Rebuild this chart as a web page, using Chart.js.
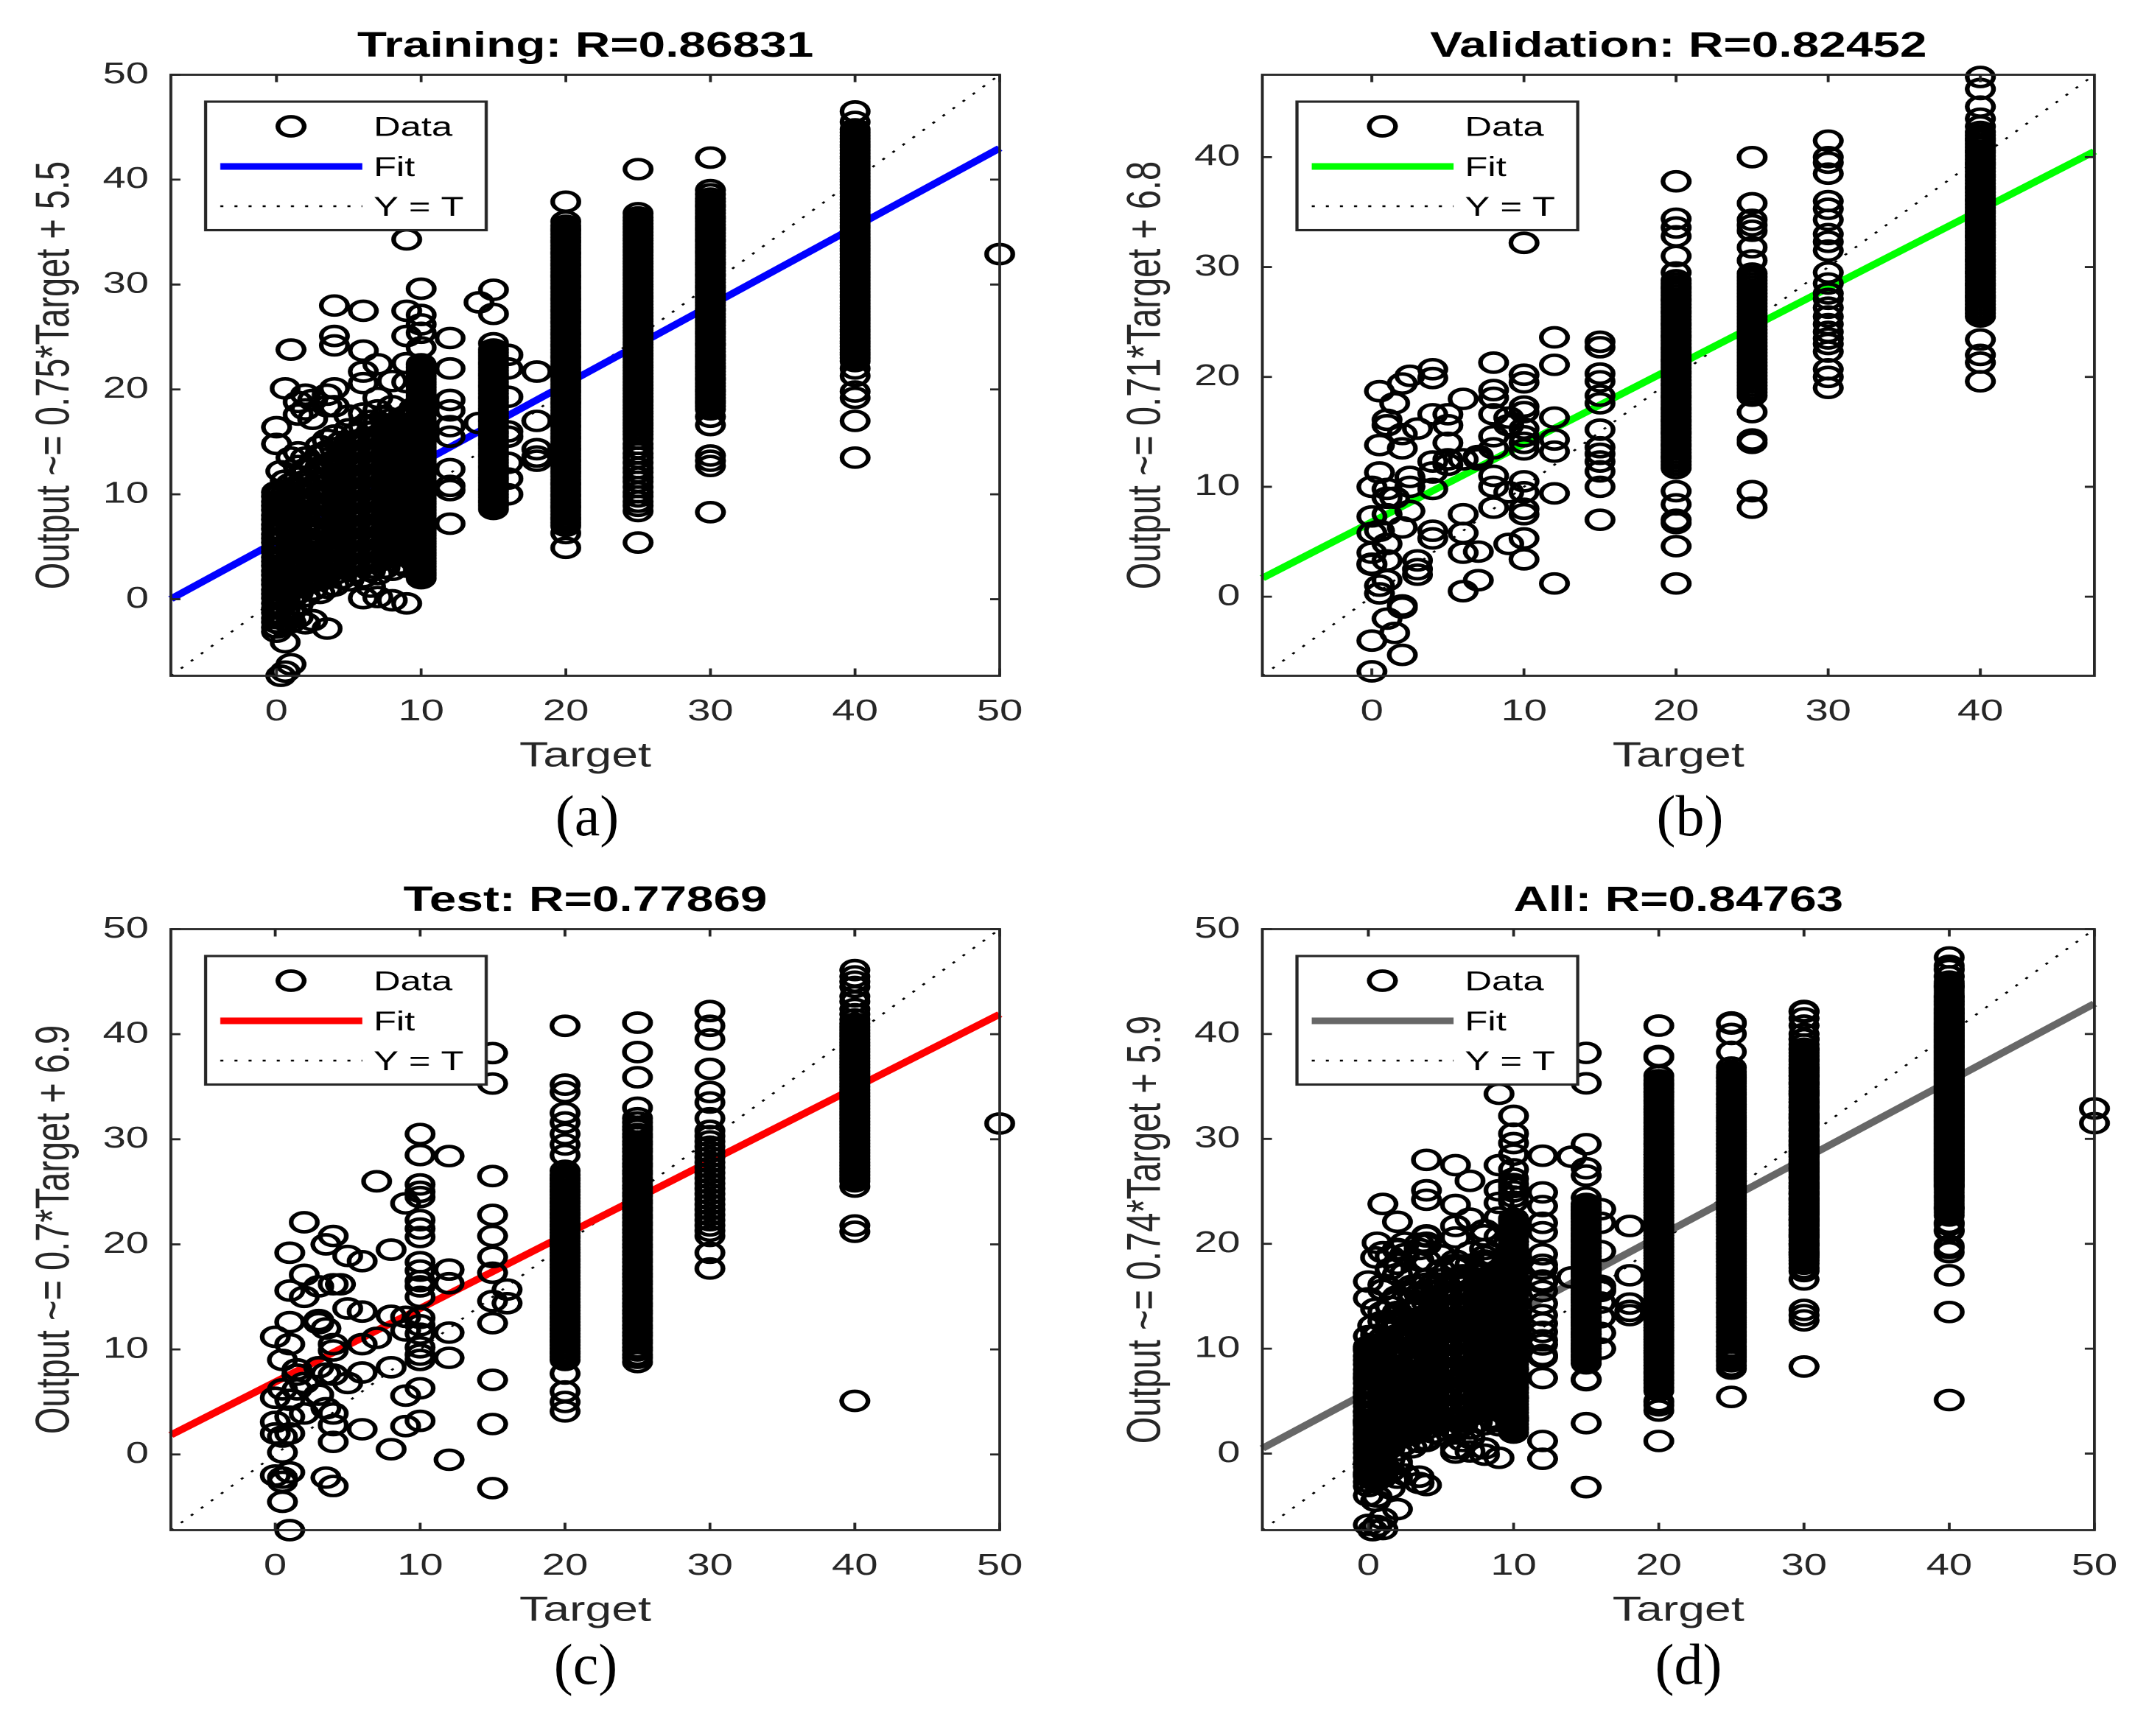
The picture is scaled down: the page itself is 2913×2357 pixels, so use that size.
<!DOCTYPE html>
<html><head><meta charset="utf-8">
<script src="https://cdn.jsdelivr.net/npm/chart.js@4.4.1/dist/chart.umd.min.js"></script>
<style>
html,body{margin:0;padding:0;background:#ffffff;}
body{width:2913px;height:2357px;position:relative;overflow:hidden;}
.panel{position:absolute;transform-origin:0 0;}
.panel canvas{display:block;}
.cap{position:absolute;width:300px;text-align:center;font-family:"Liberation Serif","Times New Roman",serif;font-size:78px;line-height:78px;color:#000;}
</style></head><body>
<div class="panel" id="p0"><canvas id="c0"></canvas></div>
<div class="panel" id="p1"><canvas id="c1"></canvas></div>
<div class="panel" id="p2"><canvas id="c2"></canvas></div>
<div class="panel" id="p3"><canvas id="c3"></canvas></div>
<div class="cap" id="cap0"></div>
<div class="cap" id="cap1"></div>
<div class="cap" id="cap2"></div>
<div class="cap" id="cap3"></div>
<script>
// ---------------- DATA ----------------
const panelTitles = ['Training: R=0.86831', 'Validation: R=0.82452', 'Test: R=0.77869', 'All: R=0.84763'];
const yAxisLabels = ['Output ~= 0.75*Target + 5.5', 'Output ~= 0.71*Target + 6.8', 'Output ~= 0.7*Target + 6.9', 'Output ~= 0.74*Target + 5.9'];
const captions = ['(a)', '(b)', '(c)', '(d)'];
const fitSlopes = [0.75, 0.71, 0.7, 0.74];
const fitIntercepts = [5.5, 6.8, 6.9, 5.9];
const axisMin = [-7.3, -7.2, -7.2, -7.3];
const axisMax = [50, 47.5, 50, 50];
const tickValues = [[0,10,20,30,40,50],[0,10,20,30,40],[0,10,20,30,40,50],[0,10,20,30,40,50]];

const trainingTargets = [0,0.3,0.6,1,1.5,2,2.5,3,3.5,4,4.5,5,5.5,6,6.5,7,7.5,8,8.5,9,9.5,10,12,14,15,16,18,20,25,30,40,50];
const trainingOutputs = [
 [-3.1,-2.7,-2.2,-1.8,-1.3,-0.9,-0.4,0.1,0.5,0.9,1.4,1.8,2.3,2.7,3.2,3.6,4.0,4.5,4.9,5.4,5.8,6.2,6.7,7.1,7.6,8.0,8.5,8.9,9.3,9.8,10.2,14.8,16.4],
 [-7.3,-2.4,-1.6,-0.7,0.2,1.1,2.0,2.9,3.8,4.7,5.6,6.5,7.4,8.3,9.2,10.1,12.2],
 [-6.9,-4.1,-2.0,-1.0,0.0,1.0,2.1,3.1,4.1,5.1,6.1,7.1,8.1,9.1,10.0,11.3,20.1],
 [-6.2,-2.2,-1.2,-0.1,0.9,2.0,3.0,4.0,5.1,6.1,7.1,8.2,9.2,10.2,11.0,13.5,23.8],
 [-1.7,-0.5,0.6,1.7,2.8,3.9,5.0,6.1,7.2,8.3,9.4,10.5,11.6,12.7,14.0,17.6,18.8],
 [-2.3,0.3,1.4,2.5,3.6,4.7,5.8,6.9,8.0,9.1,10.2,11.3,12.4,13.5,18.1,19.5],
 [-2.0,0.9,2.1,3.3,4.5,5.7,6.9,8.1,9.3,10.5,11.7,12.9,17.2,19.0],
 [0.6,1.8,3.0,4.2,5.4,6.6,7.8,9.0,10.2,11.4,12.6,13.8,14.6],
 [-2.8,1.1,2.4,3.7,5.0,6.3,7.6,8.9,10.2,11.5,12.8,14.1,15.2,18.4,19.5],
 [1.3,2.4,3.6,4.8,6.0,7.2,8.4,9.6,10.8,12.0,13.2,14.4,15.6,18.4,20.1,24.2,25.1,28.0],
 [2.0,3.2,4.4,5.6,6.8,8.0,9.2,10.4,11.6,12.8,14.0,15.0],
 [1.8,3.0,4.2,5.4,6.6,7.8,9.0,10.2,11.4,12.6,13.8,15.0,16.2,17.5],
 [2.6,3.8,5.0,6.2,7.4,8.6,9.8,11.0,12.2,13.4,14.6,15.8],
 [0.1,2.1,3.3,4.5,5.7,6.9,8.1,9.3,10.5,11.7,12.9,14.1,15.3,16.5,17.7,20.6,21.7,23.7,27.5],
 [1.2,2.7,3.9,5.1,6.3,7.5,8.7,9.9,11.1,12.3,13.5,14.7,15.9,17.0],
 [0.2,2.4,3.6,4.8,6.0,7.2,8.4,9.6,10.8,12.0,13.2,14.4,15.6,16.8,18.0,19.2,22.4],
 [3.0,4.2,5.4,6.6,7.8,9.0,10.2,11.4,12.6,13.8,15.0,16.2,17.4],
 [-0.1,2.8,4.0,5.2,6.4,7.6,8.8,10.0,11.2,12.4,13.6,14.8,16.0,17.2,18.4,20.8],
 [3.4,4.6,5.8,7.0,8.2,9.4,10.6,11.8,13.0,14.2,15.4,16.6],
 [-0.4,3.1,4.3,5.5,6.7,7.9,9.1,10.3,11.5,12.7,13.9,15.1,16.3,17.5,20.7,22.5,25.1,27.5,34.3],
 [3.7,4.9,6.1,7.3,8.5,9.7,10.9,12.1,13.3,14.5,15.7,16.9,18.2],
 [2.0,2.3,2.5,2.8,3.1,3.4,3.6,3.9,4.2,4.4,4.7,5.0,5.3,5.5,5.8,6.1,6.3,6.6,6.9,7.2,7.4,7.7,8.0,8.2,8.5,8.8,9.1,9.3,9.6,9.9,10.1,10.4,10.7,11.0,11.2,11.5,11.8,12.0,12.3,12.6,12.9,13.1,13.4,13.7,13.9,14.2,14.5,14.8,15.0,15.3,15.6,15.8,16.1,16.4,16.7,16.9,17.2,17.5,17.7,18.0,18.3,18.6,18.8,19.1,19.4,19.6,19.9,20.2,20.5,20.7,21.0,21.3,21.5,21.8,22.1,22.4,24.0,25.4,26.2,27.1,29.6],
 [7.2,10.4,10.8,12.4,15.5,16.5,18.0,19.0,22.0,24.9],
 [16.8,28.3],
 [8.6,8.9,9.2,9.4,9.7,10.0,10.3,10.5,10.8,11.1,11.4,11.6,11.9,12.2,12.5,12.7,13.0,13.3,13.6,13.8,14.1,14.4,14.7,14.9,15.2,15.5,15.8,16.0,16.3,16.6,16.9,17.1,17.4,17.7,18.0,18.2,18.5,18.8,19.1,19.3,19.6,19.9,20.2,20.4,20.7,21.0,21.3,21.5,21.8,22.1,22.4,22.6,22.9,23.2,23.5,23.8,24.4,27.2,29.5],
 [10.0,11.5,13.0,15.5,16.0,19.3,22.0,23.3],
 [13.2,13.6,14.3,17.0,21.7],
 [4.9,6.3,7.0,7.3,7.6,7.8,8.1,8.4,8.7,8.9,9.2,9.5,9.8,10.0,10.3,10.6,10.9,11.1,11.4,11.7,12.0,12.2,12.5,12.8,13.1,13.3,13.6,13.9,14.2,14.4,14.7,15.0,15.3,15.5,15.8,16.1,16.4,16.6,16.9,17.2,17.5,17.7,18.0,18.3,18.6,18.8,19.1,19.4,19.7,19.9,20.2,20.5,20.8,21.0,21.3,21.6,21.9,22.1,22.4,22.7,23.0,23.2,23.5,23.8,24.1,24.3,24.6,24.9,25.2,25.4,25.7,26.0,26.3,26.5,26.8,27.1,27.4,27.6,27.9,28.2,28.5,28.7,29.0,29.3,29.6,29.8,30.1,30.4,30.7,30.9,31.2,31.5,31.8,32.0,32.3,32.6,32.9,33.1,33.4,33.7,34.0,34.2,34.5,34.8,35.1,35.3,35.6,36.0,37.9],
 [5.4,8.4,8.9,9.3,9.8,10.2,10.7,11.2,11.6,12.1,12.5,13.0,13.5,13.9,14.4,14.8,15.3,15.7,16.0,16.3,16.6,16.8,17.1,17.4,17.7,17.9,18.2,18.5,18.8,19.0,19.3,19.6,19.9,20.1,20.4,20.7,21.0,21.2,21.5,21.8,22.1,22.3,22.6,22.9,23.2,23.4,23.7,24.0,24.3,24.5,24.8,25.1,25.4,25.6,25.9,26.2,26.5,26.7,27.0,27.3,27.6,27.8,28.1,28.4,28.7,28.9,29.2,29.5,29.8,30.0,30.3,30.6,30.9,31.1,31.4,31.7,32.0,32.2,32.5,32.8,33.1,33.3,33.6,33.9,34.2,34.4,34.7,35.0,35.3,35.5,35.8,36.1,36.4,36.8,41.0],
 [8.3,12.7,13.2,13.7,16.6,17.4,18.1,18.4,18.7,18.9,19.2,19.5,19.8,20.0,20.3,20.6,20.9,21.1,21.4,21.7,22.0,22.2,22.5,22.8,23.1,23.3,23.6,23.9,24.2,24.4,24.7,25.0,25.3,25.5,25.8,26.1,26.4,26.6,26.9,27.2,27.5,27.7,28.0,28.3,28.6,28.8,29.1,29.4,29.7,29.9,30.2,30.5,30.8,31.0,31.3,31.6,31.9,32.1,32.4,32.7,33.0,33.2,33.5,33.8,34.1,34.3,34.6,34.9,35.2,35.4,35.7,36.0,36.3,36.5,36.8,37.1,37.4,37.6,37.9,38.2,38.6,39.0,42.1],
 [13.5,17.0,19.2,19.8,21.3,22.0,22.7,23.0,23.3,23.5,23.8,24.1,24.4,24.6,24.9,25.2,25.5,25.7,26.0,26.3,26.6,26.8,27.1,27.4,27.7,27.9,28.2,28.5,28.8,29.0,29.3,29.6,29.9,30.1,30.4,30.7,31.0,31.2,31.5,31.8,32.1,32.3,32.6,32.9,33.2,33.4,33.7,34.0,34.3,34.5,34.8,35.1,35.4,35.6,35.9,36.2,36.5,36.7,37.0,37.3,37.6,37.8,38.1,38.4,38.7,38.9,39.2,39.5,39.8,40.0,40.3,40.6,40.9,41.1,41.4,41.7,42.0,42.2,42.5,42.8,43.1,43.3,43.6,43.9,44.2,44.5,44.8,45.5,46.5],
 [32.9]
];

const validationTargets = [0,0.5,1,1.5,2,2.5,3,4,5,6,7,8,9,10,12,15,20,25,30,40];
const validationOutputs = [
 [-6.8,-4.0,2.9,3.0,4.0,5.8,7.3,10.0],
 [0.3,1.0,6.0,11.3,13.8,18.7],
 [-2.0,1.5,3.3,4.8,7.5,9.0,9.8,15.6,16.1],
 [-3.3,9.0,17.6],
 [-5.3,-1.0,-0.8,6.3,13.5,14.8,19.4],
 [7.8,10.0,10.9,20.1],
 [2.0,2.5,3.3,15.3],
 [5.3,6.0,9.8,11.3,12.3,16.6,19.9,20.7],
 [12.0,12.5,14.0,15.6,16.6],
 [0.5,4.0,5.8,7.5,12.5,18.0],
 [1.5,4.1,12.5,12.8],
 [8.1,10.0,11.0,13.5,14.6,16.6,18.1,18.8,21.3],
 [4.8,9.5,15.6,16.3],
 [3.4,5.3,7.5,8.0,9.5,10.5,13.4,14.0,14.6,15.3,16.8,17.3,19.5,20.2,32.2],
 [1.2,9.4,13.2,14.3,16.3,21.1,23.6],
 [7.0,10.0,11.4,12.3,13.0,13.6,15.2,17.6,18.3,19.6,20.3,22.7,23.2],
 [1.2,4.6,6.7,7.0,8.4,9.6,11.7,12.0,12.3,12.6,12.8,13.1,13.4,13.7,13.9,14.2,14.5,14.8,15.0,15.3,15.6,15.9,16.1,16.4,16.7,17.0,17.2,17.5,17.8,18.1,18.3,18.6,18.9,19.2,19.4,19.7,20.0,20.3,20.5,20.8,21.1,21.4,21.6,21.9,22.2,22.5,22.7,23.0,23.3,23.6,23.8,24.1,24.4,24.7,24.9,25.2,25.5,25.8,26.0,26.3,26.6,26.9,27.1,27.4,27.7,28.0,28.2,28.5,28.8,29.5,31.0,32.8,33.6,34.4,37.8],
 [8.1,9.6,14.0,14.3,16.8,18.3,18.6,18.9,19.2,19.5,19.8,20.1,20.4,20.7,21.0,21.3,21.6,21.9,22.2,22.5,22.8,23.1,23.4,23.7,24.0,24.3,24.6,24.9,25.2,25.5,25.8,26.1,26.4,26.7,27.0,27.3,27.6,27.9,28.2,28.5,28.8,29.1,29.4,30.6,31.8,33.3,33.8,34.3,35.8,40.0],
 [19.0,20.0,20.7,22.3,23.0,23.5,24.1,24.8,25.5,26.3,27.1,27.6,28.5,29.5,31.5,32.3,33.0,34.3,35.3,36.0,38.5,39.5,40.0,41.5],
 [19.6,21.3,22.0,23.4,25.5,25.8,26.1,26.3,26.6,26.9,27.2,27.4,27.7,28.0,28.3,28.5,28.8,29.1,29.4,29.6,29.9,30.2,30.5,30.7,31.0,31.3,31.6,31.8,32.1,32.4,32.7,32.9,33.2,33.5,33.8,34.0,34.3,34.6,34.9,35.1,35.4,35.7,36.0,36.2,36.5,36.8,37.1,37.3,37.6,37.9,38.2,38.4,38.7,39.0,39.3,39.5,39.8,40.1,40.4,40.6,40.9,41.2,41.5,41.7,42.0,42.3,42.8,43.5,44.6,46.2,47.3]
];

const testTargets = [0,0.5,1,1.5,2,3,3.5,4,4.5,5,6,7,8,9,10,12,15,16,20,25,30,40,50];
const testOutputs = [
 [-2.0,2.0,3.1,5.4,11.2],
 [-4.5,-2.6,-2.2,0.2,1.7,6.2,9.0],
 [-7.2,-1.7,2.0,3.6,5.2,10.5,12.6,15.6,19.2],
 [6.2,7.6,8.1],
 [3.9,6.8,15.0,17.1,22.1],
 [5.7,8.3,12.5,12.8,16.0],
 [-2.2,4.4,7.7,12.0,20.0],
 [-3.0,1.2,2.8,3.9,7.6,9.9,10.5,16.2,20.8],
 [16.2],
 [6.8,13.9,18.9],
 [2.4,7.8,10.5,13.6,18.4],
 [11.1,26.0],
 [0.5,8.3,13.2,19.5],
 [2.7,5.6,11.8,13.1,23.9],
 [3.2,6.3,9.0,9.5,10.2,11.5,12.3,13.0,15.0,16.0,16.5,17.5,18.3,20.7,21.5,22.3,24.5,25.0,25.7,28.5,30.5],
 [-0.5,9.2,11.6,16.3,17.6,28.4],
 [-3.2,2.9,7.1,12.5,14.6,17.3,18.8,20.8,22.8,26.5,35.3,38.2],
 [14.4,15.7],
 [4.1,5.0,6.0,7.7,9.0,9.3,9.6,9.8,10.1,10.4,10.7,10.9,11.2,11.5,11.8,12.0,12.3,12.6,12.9,13.1,13.4,13.7,14.0,14.2,14.5,14.8,15.1,15.3,15.6,15.9,16.2,16.4,16.7,17.0,17.3,17.5,17.8,18.1,18.4,18.6,18.9,19.2,19.5,19.7,20.0,20.3,20.6,20.8,21.1,21.4,21.7,21.9,22.2,22.5,22.8,23.0,23.3,23.6,23.9,24.1,24.4,24.7,25.0,25.2,25.5,25.8,26.1,26.3,26.6,27.0,28.5,29.5,30.5,31.6,32.5,34.5,35.2,40.8],
 [8.8,9.2,9.5,9.9,10.2,10.6,10.9,11.3,11.6,12.0,12.3,12.7,13.0,13.4,13.7,14.1,14.4,14.8,15.1,15.5,15.8,16.2,16.5,16.9,17.2,17.6,17.9,18.3,18.6,19.0,19.3,19.7,20.0,20.4,20.7,21.1,21.4,21.8,22.1,22.5,22.8,23.2,23.5,23.9,24.2,24.6,24.9,25.3,25.6,26.0,26.3,26.7,27.0,27.4,27.7,28.1,28.4,28.8,29.1,29.5,29.8,30.2,30.5,30.9,31.2,31.6,32.0,33.0,35.9,38.3,41.1],
 [17.7,19.2,20.8,21.3,21.8,22.3,22.8,23.3,23.8,24.3,24.8,25.3,25.8,26.3,26.8,27.3,27.8,28.3,28.8,29.3,29.8,30.3,30.8,32.0,33.5,34.5,36.7,39.5,40.8,42.2],
 [5.1,21.2,21.8,25.5,26.0,26.3,26.6,26.9,27.2,27.5,27.8,28.1,28.4,28.7,29.0,29.3,29.6,29.9,30.2,30.5,30.8,31.1,31.4,31.7,32.0,32.3,32.6,32.9,33.2,33.5,33.8,34.1,34.4,34.7,35.0,35.3,35.6,35.9,36.2,36.5,36.8,37.1,37.4,37.7,38.0,38.3,38.6,38.9,39.2,39.5,39.8,40.1,40.4,40.7,41.0,41.4,41.9,42.4,43.1,43.6,44.5,45.0,45.5,46.1],
 [31.5]
];

// ---------------- STYLE / LAYOUT ----------------
const S = 1.37;                 // horizontal stretch of the reference figure
const CW = Math.round(1456 / S);
const CANVAS_H = 1070;
const PLOT_T = 101.5, PLOT_B = 917.5;
const FONT = '"Liberation Sans", Arial, Helvetica, sans-serif';
const AX_COLOR = '#262626';
const fitColors = ['#0000ff', '#00ff00', '#ff0000', '#676767'];
const panelLeft = [0, 1456, 0, 1456];
const panelTop = [0, 0, 1160, 1160];
const plotL = [232, 257.5, 232, 257.5];
const plotR = [1357, 1387, 1357, 1387];
const captionCenterX = [797, 2294, 795, 2292];
const captionTop = [1069, 1069, 2221, 2221];

function toPoints(targets, outputs) {
  const pts = [];
  targets.forEach((t, i) => outputs[i].forEach(y => pts.push({x: t, y: y})));
  return pts;
}
const trainingPts = toPoints(trainingTargets, trainingOutputs);
const validationPts = toPoints(validationTargets, validationOutputs);
const testPts = toPoints(testTargets, testOutputs);
const allPts = trainingPts.concat(validationPts, testPts);
const panelPoints = [trainingPts, validationPts, testPts, allPts];

const overlayPlugin = {
  id: 'matlabOverlay',
  afterDatasetsDraw(chart) {
    const ctx = chart.ctx, ca = chart.chartArea, ds = chart.data.datasets;
    ctx.save();
    // legend box
    const lx0 = ca.left + 47 / S, lx1 = ca.left + 428 / S;
    const ly0 = ca.top + 36.5, ly1 = ca.top + 211;
    ctx.fillStyle = '#ffffff';
    ctx.fillRect(lx0, ly0, lx1 - lx0, ly1 - ly0);
    ctx.strokeStyle = AX_COLOR; ctx.lineWidth = 3.1;
    ctx.strokeRect(lx0, ly0, lx1 - lx0, ly1 - ly0);
    const rows = [ca.top + 70, ca.top + 124.5, ca.top + 178.5];
    ctx.beginPath();
    ctx.lineWidth = ds[0].pointBorderWidth; ctx.strokeStyle = ds[0].pointBorderColor;
    ctx.arc(ca.left + 163 / S, rows[0], ds[0].pointRadius, 0, Math.PI * 2);
    ctx.stroke();
    ctx.beginPath();
    ctx.lineWidth = ds[1].borderWidth; ctx.strokeStyle = ds[1].borderColor; ctx.lineCap = 'butt';
    ctx.moveTo(ca.left + 67 / S, rows[1]); ctx.lineTo(ca.left + 259.7 / S, rows[1]);
    ctx.stroke();
    ctx.beginPath();
    ctx.lineWidth = ds[2].borderWidth; ctx.strokeStyle = ds[2].borderColor;
    ctx.setLineDash(ds[2].borderDash);
    ctx.moveTo(ca.left + 67 / S, rows[2]); ctx.lineTo(ca.left + 259.7 / S, rows[2]);
    ctx.stroke();
    ctx.setLineDash([]);
    ctx.fillStyle = '#000000';
    ctx.font = '37px ' + FONT;
    ctx.textAlign = 'left'; ctx.textBaseline = 'middle';
    ds.forEach((d, k) => ctx.fillText(d.label, ca.left + 275 / S, rows[k] + 3));
    // axes box and inward ticks
    ctx.strokeStyle = AX_COLOR; ctx.lineWidth = 2.8;
    ctx.strokeRect(ca.left, ca.top, ca.right - ca.left, ca.bottom - ca.top);
    const xs = chart.scales.x, ys = chart.scales.y;
    ctx.beginPath();
    xs.ticks.forEach(t => {
      const px = xs.getPixelForValue(t.value);
      ctx.moveTo(px, ca.bottom); ctx.lineTo(px, ca.bottom - 10);
      ctx.moveTo(px, ca.top); ctx.lineTo(px, ca.top + 10);
    });
    ys.ticks.forEach(t => {
      const py = ys.getPixelForValue(t.value);
      ctx.moveTo(ca.left, py); ctx.lineTo(ca.left + 13 / S, py);
      ctx.moveTo(ca.right, py); ctx.lineTo(ca.right - 13 / S, py);
    });
    ctx.stroke();
    ctx.restore();
  }
};

function makeChart(i) {
  const wrap = document.getElementById('p' + i);
  wrap.style.left = panelLeft[i] + 'px';
  wrap.style.top = panelTop[i] + 'px';
  wrap.style.transform = 'scaleX(' + S + ')';
  const cv = document.getElementById('c' + i);
  cv.width = CW; cv.height = CANVAS_H;
  cv.style.width = CW + 'px'; cv.style.height = CANVAS_H + 'px';
  const lo = axisMin[i], hi = axisMax[i], m = fitSlopes[i], b = fitIntercepts[i];
  const ticks = tickValues[i];
  new Chart(cv.getContext('2d'), {
    type: 'scatter',
    data: {
      datasets: [
        {label: 'Data', data: panelPoints[i], pointStyle: 'circle', pointRadius: 13, pointHoverRadius: 13,
         pointBorderWidth: 4.7, pointBorderColor: '#000000', pointBackgroundColor: 'rgba(0,0,0,0)',
         showLine: false, clip: false, order: 0},
        {type: 'line', label: 'Fit', data: [{x: lo, y: m * lo + b}, {x: hi, y: m * hi + b}],
         borderColor: fitColors[i], borderWidth: 9, pointRadius: 0, fill: false, clip: false, order: 1},
        {type: 'line', label: 'Y = T', data: [{x: lo, y: lo}, {x: hi, y: hi}],
         borderColor: '#000000', borderWidth: 2.4, borderDash: [3, 11], pointRadius: 0, fill: false, order: 2}
      ]
    },
    options: {
      responsive: false, animation: false, devicePixelRatio: 2, events: [],
      layout: {autoPadding: false, padding: {left: 0, top: 0, bottom: 0, right: CW - plotR[i] / S}},
      plugins: {
        legend: {display: false}, tooltip: {enabled: false},
        title: {display: true, text: panelTitles[i], fullSize: false, color: '#000000',
                font: {family: FONT, size: 48, weight: 'bold'}, padding: {top: 35.2, bottom: PLOT_T - 35.2 - 57.6}}
      },
      scales: {
        x: {
          type: 'linear', position: 'bottom', min: lo, max: hi,
          afterBuildTicks: ax => { ax.ticks = ticks.map(v => ({value: v})); },
          afterFit: ax => { ax.height = CANVAS_H - PLOT_B; },
          grid: {display: false, drawTicks: false}, border: {display: false},
          ticks: {padding: 24.4, color: AX_COLOR, font: {family: FONT, size: 41}, maxRotation: 0, autoSkip: false},
          title: {display: true, text: 'Target', color: AX_COLOR, font: {family: FONT, size: 47}, padding: {top: 0, bottom: 14.3}}
        },
        y: {
          type: 'linear', position: 'left', min: lo, max: hi,
          afterBuildTicks: ax => { ax.ticks = ticks.map(v => ({value: v})); },
          afterFit: ax => { ax.width = plotL[i] / S; },
          grid: {display: false, drawTicks: false}, border: {display: false},
          ticks: {padding: 30 / S, color: AX_COLOR, font: {family: FONT, size: 41}, autoSkip: false},
          title: {display: true, text: yAxisLabels[i], color: AX_COLOR, font: {family: FONT, size: 47},
                  padding: {top: (plotL[i] - 153) / S - 2.7 - 28.2, bottom: 0}}
        }
      }
    },
    plugins: [overlayPlugin]
  });
  const cap = document.getElementById('cap' + i);
  cap.textContent = captions[i];
  cap.style.left = (captionCenterX[i] - 150) + 'px';
  cap.style.top = captionTop[i] + 'px';
}
[0, 1, 2, 3].forEach(makeChart);
</script>
</body></html>
